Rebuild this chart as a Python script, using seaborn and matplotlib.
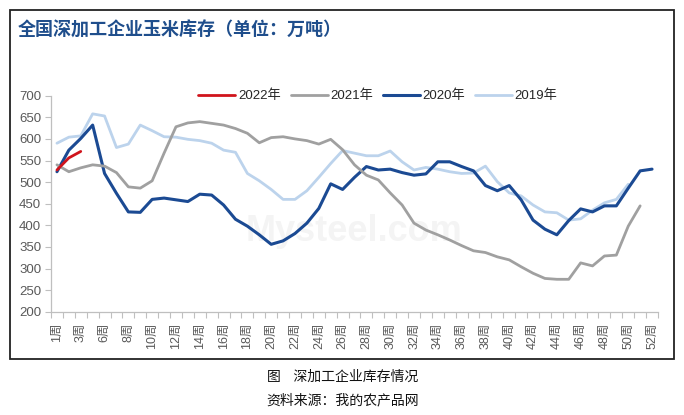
import pandas as pd
import seaborn as sns
import matplotlib.pyplot as plt
from matplotlib.patches import Rectangle
from matplotlib.ticker import FixedLocator


# week categories (week 5 is missing in the source sheet)
weeks = [1, 2, 3, 4, 6, 7, 8, 9, 10, 11, 12, 13, 14, 15, 16, 17, 18, 19, 20, 21,
         22, 23, 24, 25, 26, 27, 28, 29, 30, 31, 32, 33, 34, 35, 36, 37, 38, 39, 40, 41,
         42, 43, 44, 45, 46, 47, 48, 49, 50, 51, 52]

inv_2022 = [528, 556, 571]
inv_2021 = [540, 524, 533, 540, 537, 522, 489, 486, 503, 567,
            628, 637, 640, 636, 632, 624, 613, 591, 603, 605,
            600, 596, 588, 599, 575, 540, 516, 505, 475, 447,
            405, 389, 378, 366, 353, 341, 337, 327, 320, 304,
            289, 277, 275, 275, 313, 306, 329, 331, 398, 445]
inv_2020 = [524, 574, 601, 632, 520, 474, 431, 430, 460, 463,
            459, 455, 472, 470, 447, 414, 398, 378, 356, 364,
            381, 405, 439, 496, 483, 511, 536, 528, 530, 522,
            516, 519, 547, 547, 536, 526, 492, 480, 492, 459,
            412, 391, 378, 411, 438, 431, 445, 445, 486, 526, 530]
inv_2019 = [590, 604, 607, 658, 653, 580, 588, 632, 619, 605,
            604, 599, 596, 590, 574, 569, 520, 503, 483, 460,
            460, 480, 511, 543, 573, 567, 561, 561, 572, 547,
            528, 534, 530, 524, 520, 521, 537, 501, 475, 468,
            447, 431, 429, 412, 415, 435, 452, 460, 495]

series_names = ["2022年", "2021年", "2020年", "2019年"]
series_vals = [inv_2022, inv_2021, inv_2020, inv_2019]
colors = ["#D0141C", "#A0A0A0", "#1B4A93", "#BCD3EC"]
widths = [2.0, 2.0, 2.2, 2.0]

rows = []
for name, vals in zip(series_names, series_vals):
    for i, v in enumerate(vals):
        rows.append({"idx": i, "week": weeks[i], "value": v, "year": name})
df = pd.DataFrame(rows)

sns.set_theme(style="white")
plt.rcParams["font.family"] = ["Liberation Sans", "Noto Sans CJK SC", "DejaVu Sans"]

fig = plt.figure(figsize=(6.84, 4.15), dpi=100)
ax = fig.add_axes([51 / 684, 1 - 311.7 / 415, (658 - 51) / 684, (311.7 - 95.7) / 415])

# faint watermark
ax.text(0.50, 0.37, "Mysteel.com", transform=ax.transAxes, fontsize=26, fontweight="bold",
        color="#F4F4F4", ha="center", va="center", zorder=0, family="Liberation Sans")

# draw back to front: 2019 below, 2022 on top
for k in [3, 1, 2, 0]:
    sub = df[df["year"] == series_names[k]]
    sns.lineplot(data=sub, x="idx", y="value", color=colors[k], linewidth=widths[k],
                 ax=ax, label=series_names[k], zorder=3 + (3 - k))

ax.set_xlim(-0.5, 50.5)
ax.set_ylim(200, 700)
ax.set_yticks(range(200, 701, 50))
ax.set_xlabel("")
ax.set_ylabel("")

label_pos = list(range(0, len(weeks), 2))
ax.set_xticks(label_pos)
ax.set_xticklabels([f"{weeks[i]}周" for i in label_pos], rotation=90)
ax.xaxis.set_minor_locator(FixedLocator([i - 0.5 for i in range(len(weeks) + 1)]))
ax.tick_params(axis="x", which="major", length=0, pad=8, labelsize=9, labelcolor="#595959")
ax.tick_params(axis="x", which="minor", bottom=True, length=4, width=0.8, color="#BFBFBF")
ax.tick_params(axis="y", which="major", left=True, length=4, width=0.8, color="#BFBFBF",
               pad=3, labelsize=9.5, labelcolor="#595959")

for s in ["top", "right"]:
    ax.spines[s].set_visible(False)
for s in ["left", "bottom"]:
    ax.spines[s].set_color("#BFBFBF")
    ax.spines[s].set_linewidth(0.9)

# legend in the order of the reference
ax.get_legend().remove()
handles, labels = ax.get_legend_handles_labels()
order = [labels.index(n) for n in series_names]
fig.legend([handles[i] for i in order], series_names, loc="center",
           bbox_to_anchor=(378 / 684, 1 - 96 / 415), ncol=4, frameon=False,
           handlelength=2.8, columnspacing=0.75, handletextpad=0.2, fontsize=9.5)

fig.text(18 / 684, 1 - 30 / 415, "全国深加工企业玉米库存（单位：万吨）", fontsize=13,
         fontweight="bold", color="#1F4E8C", ha="left", va="center",
         family=["Noto Sans CJK SC", "DejaVu Sans"])

# outer frame
fig.patches.append(Rectangle((10 / 684, 1 - 359 / 415), (674 - 10) / 684, (359 - 10) / 415,
                             transform=fig.transFigure, fill=False, edgecolor="#222222",
                             linewidth=1.3))

fig.text(343 / 684, 1 - 377 / 415, "图    深加工企业库存情况", fontsize=10, ha="center",
         va="center", color="#111111", family=["Noto Sans CJK SC", "DejaVu Sans"])
fig.text(343 / 684, 1 - 400 / 415, "资料来源：我的农产品网", fontsize=10, ha="center",
         va="center", color="#111111", family=["Noto Sans CJK SC", "DejaVu Sans"])

fig.savefig("out.png", dpi=100)
